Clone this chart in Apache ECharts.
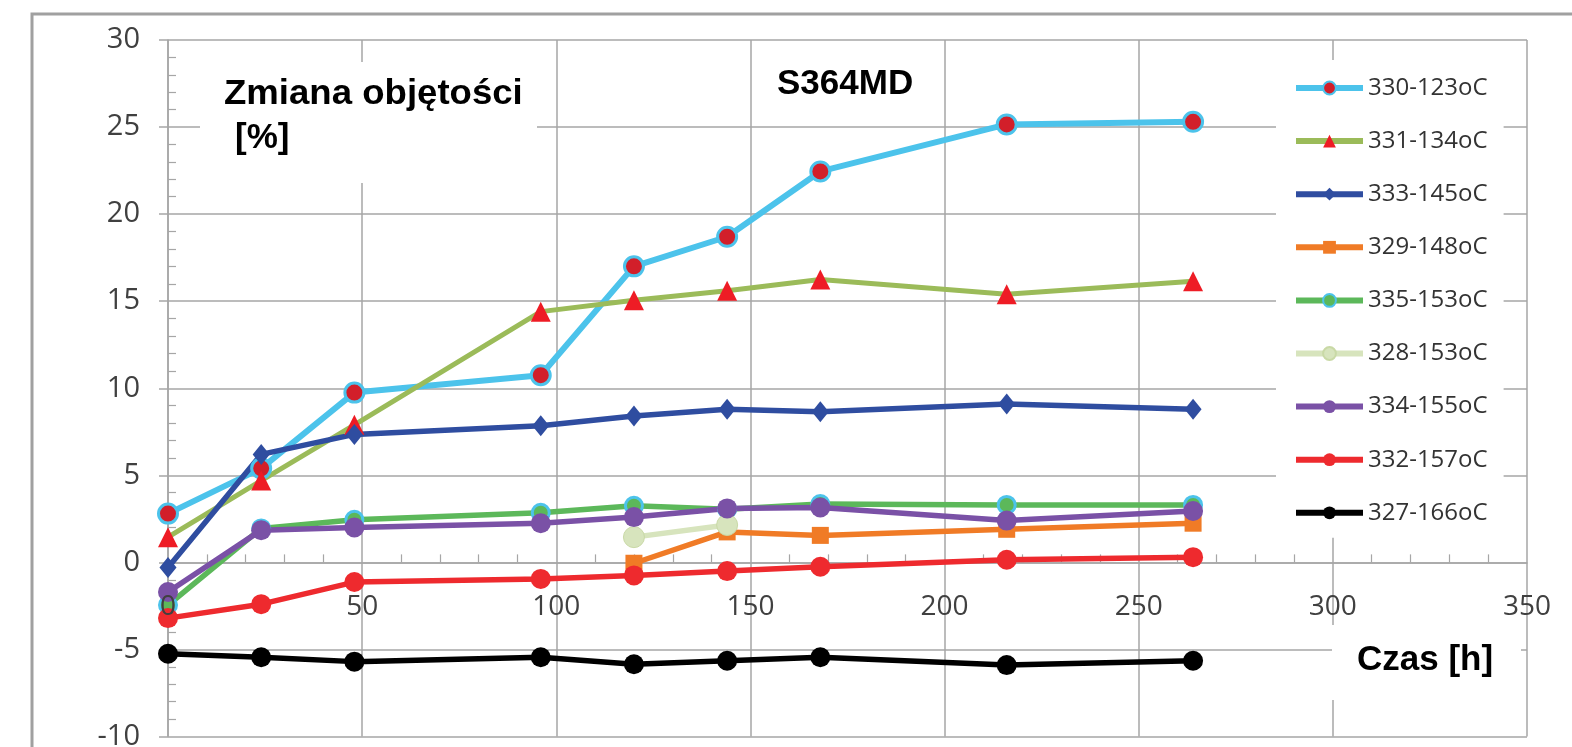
<!DOCTYPE html>
<html>
<head>
<meta charset="utf-8">
<script src="https://cdn.jsdelivr.net/npm/echarts@6/dist/echarts.min.js"></script>
<style>
html,body{margin:0;padding:0;background:#fff;}
#chart{width:1572px;height:747px;}
</style>
</head>
<body>
<div id="chart"></div>
<script>
// ---- data ----
const hours = [0, 24, 48, 96, 120, 144, 168, 216, 264];
const seriesNames = ['330-123oC','331-134oC','333-145oC','329-148oC','335-153oC','328-153oC','334-155oC','332-157oC','327-166oC'];
const s330 = [2.8, 5.4, 9.75, 10.75, 17.0, 18.7, 22.45, 25.15, 25.3];
const s331 = [1.45, 4.7, 7.9, 14.4, 15.05, 15.6, 16.25, 15.4, 16.15];
const s333 = [-0.3, 6.2, 7.35, 7.85, 8.4, 8.8, 8.65, 9.1, 8.8];
const s329 = [null, null, null, null, -0.05, 1.75, 1.55, 1.9, 2.25];
const s335 = [-2.45, 1.95, 2.45, 2.85, 3.25, 3.05, 3.35, 3.3, 3.3];
const s328 = [null, null, null, null, 1.45, 2.15, null, null, null];
const s334 = [-1.7, 1.85, 2.0, 2.25, 2.6, 3.1, 3.15, 2.4, 2.95];
const s332 = [-3.2, -2.4, -1.13, -0.95, -0.75, -0.5, -0.25, 0.15, 0.3];
const s327 = [-5.25, -5.45, -5.7, -5.45, -5.85, -5.65, -5.45, -5.9, -5.65];
const xTickLabels = ['0','50','100','150','200','250','300','350'];
const yTickLabels = ['-10','-5','0','5','10','15','20','25','30'];
const titleY = 'Zmiana objętości';
const titleYUnit = '[%]';
const titleSample = 'S364MD';
const titleX = 'Czas [h]';

function pts(vals){
  const out = [];
  hours.forEach((h,i)=>{ if(vals[i] !== null) out.push([h, vals[i]]); });
  return out;
}

const styles = [
  {line:'#4cc3eb', symbol:'circle', size:19, fill:'#d21f2a', border:'#4cc3eb', bw:3, lw:6},
  {line:'#9bbb59', symbol:'triangle', size:20, fill:'#ee1c25', border:null, bw:0, lw:5},
  {line:'#2f4da0', symbol:'diamond', size:[17,21], fill:'#2f4da0', border:null, bw:0, lw:5.5},
  {line:'#f07b26', symbol:'rect', size:17, fill:'#f07b26', border:null, bw:0, lw:5.5},
  {line:'#5cb85a', symbol:'circle', size:17, fill:'#5cb85a', border:'#4cc3eb', bw:3, lw:5.5},
  {line:'#d7e4bd', symbol:'circle', size:21, fill:'#d7e4bd', border:'#c9d9a6', bw:1, lw:5.5},
  {line:'#7a51a6', symbol:'circle', size:20, fill:'#7a51a6', border:null, bw:0, lw:5.5},
  {line:'#ee2a2e', symbol:'circle', size:20, fill:'#ee2a2e', border:null, bw:0, lw:5.5},
  {line:'#000000', symbol:'circle', size:20, fill:'#000000', border:null, bw:0, lw:5.5}
];
const allVals = [s330, s331, s333, s329, s335, s328, s334, s332, s327];

const series = allVals.map((v, i) => {
  const st = styles[i];
  return {
    name: seriesNames[i],
    type: 'line',
    xAxisIndex: 0,
    yAxisIndex: 0,
    data: pts(v),
    symbol: st.symbol,
    symbolSize: st.size,
    showAllSymbol: true,
    lineStyle: {color: st.line, width: st.lw},
    itemStyle: {color: st.fill, borderColor: st.border || st.fill, borderWidth: st.bw},
    color: st.line,
    z: 3,
    emphasis: {disabled: true}
  };
});

const gridColor = '#a6a6a6';
const labelFont = "'Open Sans', sans-serif";
const yMin = -10, yMax = 30;
const gridTop = 40, gridBottom = 10.5, chartH = 747;
// distance from bottom edge of plot to the y=0 line, used to lift the x axis onto zero
const zeroLift = (chartH - gridTop - gridBottom) * (0 - yMin) / (yMax - yMin);

const chart = echarts.init(document.getElementById('chart'), null, {renderer: 'canvas'});
chart.setOption({
  animation: false,
  backgroundColor: '#ffffff',
  grid: {left: 168, right: 45, top: gridTop, bottom: gridBottom, containLabel: false, outerBoundsMode: 'none'},
  xAxis: [{
    type: 'value', min: 0, max: 350, interval: 50, position: 'bottom',
    offset: -zeroLift,
    axisLine: {show: true, onZero: false, lineStyle: {color: gridColor, width: 1.5}},
    axisTick: {show: false, inside: true},
    minorTick: {show: true, splitNumber: 5, length: 8, lineStyle: {color: gridColor, width: 1.2}},
    axisLabel: {show: false},
    splitLine: {show: true, lineStyle: {color: gridColor, width: 1.5}}
  }, {
    type: 'value', min: 0, max: 350, interval: 50, position: 'bottom',
    offset: -zeroLift, z: 20,
    axisLine: {show: false, onZero: false},
    axisTick: {show: false},
    minorTick: {show: false},
    axisLabel: {
      show: true,
      fontFamily: labelFont, fontSize: 28, color: '#404040', margin: 31,
      showMinLabel: true, showMaxLabel: true, hideOverlap: false,
      formatter: v => xTickLabels[Math.round(v/50)]
    },
    splitLine: {show: false}
  }],
  yAxis: [{
    type: 'value', min: yMin, max: yMax, interval: 5, position: 'left',
    axisLine: {show: true, onZero: false, lineStyle: {color: gridColor, width: 1.5}},
    axisTick: {show: true, length: 9, lineStyle: {color: gridColor, width: 1.5}},
    axisLabel: {
      fontFamily: labelFont, fontSize: 29, color: '#404040', margin: 28,
      showMinLabel: true, showMaxLabel: true,
      formatter: v => yTickLabels[Math.round((v - yMin)/5)]
    },
    splitLine: {show: true, lineStyle: {color: gridColor, width: 1.5}}
  }, {
    type: 'value', min: yMin, max: yMax, interval: 5, position: 'left',
    axisLine: {show: false, onZero: false},
    axisTick: {show: false, inside: true},
    minorTick: {show: true, splitNumber: 5, length: 8, lineStyle: {color: gridColor, width: 1.2}},
    axisLabel: {show: false},
    splitLine: {show: false}
  }],
  legend: {
    show: true,
    orient: 'vertical',
    left: 1276, top: 60,
    padding: [16, 16, 13, 17],
    backgroundColor: '#ffffff',
    itemWidth: 67, itemHeight: 16, itemGap: 29.1,
    lineStyle: {width: 6},
    textStyle: {fontFamily: labelFont, fontSize: 24, color: '#333333', lineHeight: 24},
    data: seriesNames,
    selectedMode: false
  },
  graphic: [
    {type: 'rect', z: 1, shape: {x: 200, y: 62, width: 337, height: 121}, style: {fill: '#ffffff'}, silent: true},
    {type: 'rect', z: 1, shape: {x: 1332, y: 625, width: 189, height: 75}, style: {fill: '#ffffff'}, silent: true},
    {type: 'text', z: 5, x: 224, y: 94, scaleX: 1.045, style: {text: titleY, font: "bold 35px 'Liberation Sans', Arial, sans-serif", fill: '#000', textAlign: 'left', textVerticalAlign: 'middle'}},
    {type: 'text', z: 5, x: 235, y: 138, style: {text: titleYUnit, font: "bold 35px 'Liberation Sans', Arial, sans-serif", fill: '#000', textAlign: 'left', textVerticalAlign: 'middle'}},
    {type: 'text', z: 5, x: 777, y: 84, style: {text: titleSample, font: "bold 35px 'Liberation Sans', Arial, sans-serif", fill: '#000', textAlign: 'left', textVerticalAlign: 'middle'}},
    {type: 'text', z: 5, x: 1357, y: 660, style: {text: titleX, font: "bold 35px 'Liberation Sans', Arial, sans-serif", fill: '#000', textAlign: 'left', textVerticalAlign: 'middle'}},
    {type: 'rect', z: 10, shape: {x: 32, y: 14, width: 1600, height: 800}, style: {fill: 'none', stroke: '#a0a0a0', lineWidth: 3}, silent: true}
  ],
  series: series
});
</script>
</body>
</html>
